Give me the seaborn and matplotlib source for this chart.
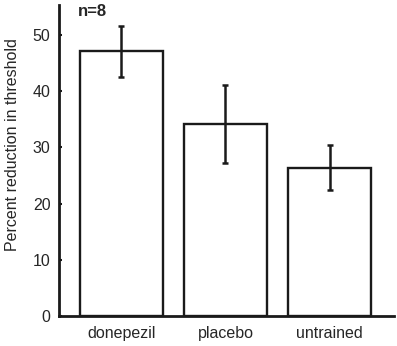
import matplotlib
matplotlib.use("Agg")
import matplotlib.pyplot as plt
import seaborn as sns
import pandas as pd

categories = ["donepezil", "placebo", "untrained"]
means = [47.1, 34.2, 26.4]
errors = [4.6, 6.9, 4.0]
yticks = [0, 10, 20, 30, 40, 50]

sns.set_theme(style="ticks")
plt.rcParams['font.family'] = ['Liberation Sans', 'DejaVu Sans']

fig = plt.figure(figsize=(3.97, 3.46), dpi=100)
ax = fig.add_axes([0.148, 0.087, 0.845, 0.899])

df = pd.DataFrame({"group": categories, "value": means})
sns.barplot(data=df, x="group", y="value", ax=ax, color="white",
            edgecolor="#1a1a1a", linewidth=1.7, width=0.8, errorbar=None)
ax.errorbar(range(len(categories)), means, yerr=errors, fmt="none",
            ecolor="#1a1a1a", elinewidth=1.8, capsize=2, capthick=1.8)

ax.set_xlim(-0.6, 2.62)
ax.set_ylim(0, 55.4)
ax.set_yticks(yticks)
ax.set_xlabel("")
ax.set_ylabel("Percent reduction in threshold", fontsize=11.5)
ax.yaxis.set_label_coords(-0.117, 0.55)
ax.tick_params(axis="x", length=0, pad=7, labelsize=11.5)
ax.tick_params(axis="y", direction="in", length=2.5, width=1.5, pad=6,
               labelsize=11.5, color="#1a1a1a")
for s in ["top", "right"]:
    ax.spines[s].set_visible(False)
for s in ["left", "bottom"]:
    ax.spines[s].set_linewidth(2)
    ax.spines[s].set_color("#1a1a1a")

ax.text(-0.42, 54.3, "n=8", fontsize=12, fontweight="bold", ha="left", va="center")

fig.savefig("out.png", dpi=100)
